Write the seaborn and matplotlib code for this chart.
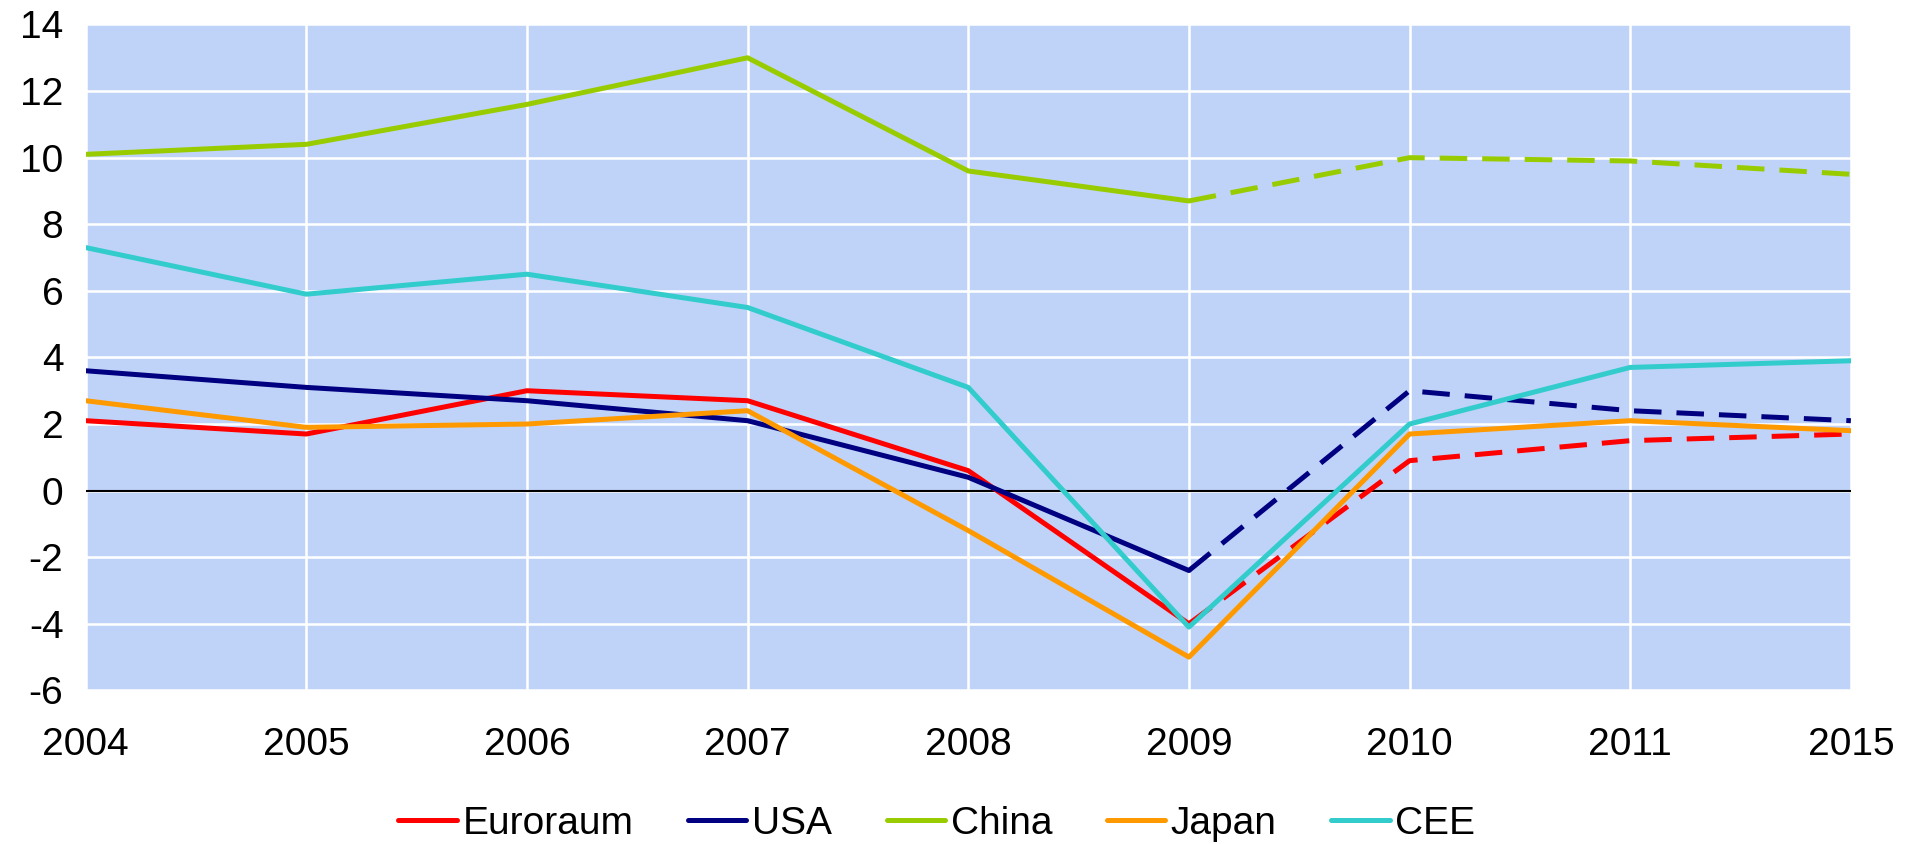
import pandas as pd
import numpy as np
import matplotlib.pyplot as plt
import seaborn as sns
from matplotlib.lines import Line2D

# -----------------------------------------------
# Data
# -----------------------------------------------
years = ['2004', '2005', '2006', '2007', '2008', '2009', '2010', '2011', '2015']

euroraum = [2.1, 1.7, 3.0, 2.7, 0.6, -4.0, 0.9, 1.5, 1.7]
usa = [3.6, 3.1, 2.7, 2.1, 0.4, -2.4, 3.0, 2.4, 2.1]
china = [10.1, 10.4, 11.6, 13.0, 9.6, 8.7, 10.0, 9.9, 9.5]
japan = [2.7, 1.9, 2.0, 2.4, -1.2, -5.0, 1.7, 2.1, 1.8]
cee = [7.3, 5.9, 6.5, 5.5, 3.1, -4.1, 2.0, 3.7, 3.9]

series_names = ['Euroraum', 'USA', 'China', 'Japan', 'CEE']
series_values = [euroraum, usa, china, japan, cee]
colors = ['#FF0000', '#000080', '#99CC00', '#FF9900', '#33CCCC']
# series drawn dashed after 2009 (forecast part)
dashed_after = {'Euroraum': '2009', 'USA': '2009', 'China': '2009'}

yticks = list(range(-6, 15, 2))

# -----------------------------------------------
# Build long table
# -----------------------------------------------
rows = []
for name, vals in zip(series_names, series_values):
    for i, (yr, v) in enumerate(zip(years, vals)):
        rows.append({'pos': i, 'year': yr, 'value': v, 'country': name})
df = pd.DataFrame(rows)

# -----------------------------------------------
# Plot
# -----------------------------------------------
sns.set_style('white')
plt.rcParams['font.family'] = ['Liberation Sans', 'DejaVu Sans']
plt.rcParams['text.color'] = 'black'
plt.rcParams['xtick.color'] = 'black'
plt.rcParams['ytick.color'] = 'black'

fig, ax = plt.subplots(figsize=(19.16, 8.44), dpi=100)
fig.subplots_adjust(left=0.0447, right=0.966, top=0.971, bottom=0.182)
ax.set_facecolor('#BFD3F8')

lw = 3.6
for name, col in zip(series_names, colors):
    d = df[df['country'] == name]
    if name in dashed_after:
        cut = years.index(dashed_after[name])
        solid = d[d['pos'] <= cut]
        dash = d[d['pos'] >= cut]
        sns.lineplot(data=solid, x='pos', y='value', color=col, lw=lw, ax=ax,
                     sort=False, zorder=3)
        sns.lineplot(data=dash, x='pos', y='value', color=col, lw=lw, ax=ax,
                     sort=False, zorder=3)
        ax.lines[-1].set_dashes([5.5, 3])
    else:
        sns.lineplot(data=d, x='pos', y='value', color=col, lw=lw, ax=ax,
                     sort=False, zorder=3)

ax.axhline(0, color='black', lw=1.5, zorder=2)

ax.set_xlim(0, len(years) - 1)
ax.set_ylim(-6, 14)
ax.set_xticks(range(len(years)))
ax.set_xticklabels(years)
ax.set_yticks(yticks)
ax.set_yticklabels([str(t) for t in yticks])
ax.grid(True, color='white', lw=1.8, zorder=1)
ax.set_axisbelow(True)
for s in ax.spines.values():
    s.set_visible(False)
ax.tick_params(axis='x', labelsize=28, pad=26, length=0, colors='black')
ax.tick_params(axis='y', labelsize=28, pad=16, length=0, colors='black')
ax.set_xlabel('')
ax.set_ylabel('')

handles = [Line2D([0], [0], color=c, lw=lw) for c in colors]
fig.legend(handles, series_names, loc='center', bbox_to_anchor=(0.489, 0.024),
           ncol=5, frameon=False, fontsize=28, handlelength=1.5,
           handletextpad=0.15, columnspacing=1.4)

plt.savefig('out.png', dpi=100)
